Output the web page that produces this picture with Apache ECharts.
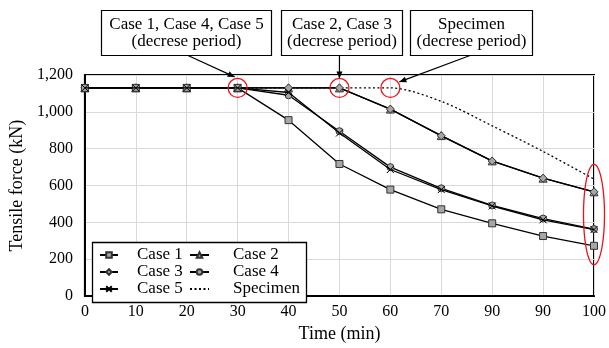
<!DOCTYPE html>
<html>
<head>
<meta charset="utf-8">
<script src="https://cdn.jsdelivr.net/npm/echarts@6/dist/echarts.min.js"></script>
<style>
  html, body { margin: 0; padding: 0; background: #fff; }
  #chart { width: 609px; height: 348px; }
</style>
</head>
<body>
<div id="chart"></div>
<script>
// Time axis labels (min)
const timeLabels = ['0', '10', '20', '30', '40', '50', '60', '70', '90', '90', '100'];

// Tensile force (kN) per case
const case1 = [1130, 1130, 1130, 1130, 955, 717, 578, 471, 395, 326, 273];
const case2 = [1130, 1130, 1130, 1130, 1130, 1130, 1015, 871, 734, 640, 566];
const case3 = [1130, 1130, 1130, 1130, 1130, 1130, 1015, 870, 733, 640, 566];
const case4 = [1130, 1130, 1130, 1130, 1090, 895, 700, 585, 492, 421, 364];
const case5 = [1130, 1130, 1130, 1130, 1105, 885, 687, 578, 489, 414, 361];
const specimen = [1130, 1130, 1130, 1130, 1130, 1130, 1130, 1057, 924, 785, 635];

// Y axis range
const yMin = 0, yMax = 1200, yStep = 200;

// Start of each decrease period (category index, force) and the end-of-test range
const decreaseStarts = [[3, 1130], [5, 1130], [6, 1130]];
const endRange = { index: 10, low: 170, high: 715 };

const FONT = '"Liberation Serif", "Times New Roman", serif';
const chart = echarts.init(document.getElementById('chart'), null, { renderer: 'canvas' });

const greyMarker = { color: '#a6a6a6', borderColor: '#333', borderWidth: 1 };
const blackLine = { color: '#000', width: 1.3 };

function caseSeries(name, data, symbol, size, z) {
  return {
    name, type: 'line', data, symbol, symbolSize: size, showAllSymbol: true,
    itemStyle: greyMarker, lineStyle: blackLine, z, animation: false
  };
}

function legendText(pad) {
  return { fontFamily: FONT, fontSize: 17, color: '#000', lineHeight: 17, padding: [0, 0, 0, pad] };
}

chart.setOption({
  animation: false,
  grid: { left: 83, right: 9, top: 75, bottom: 41, show: true, borderColor: '#000', borderWidth: 2, backgroundColor: 'transparent' },
  xAxis: {
    type: 'category', data: timeLabels, boundaryGap: false,
    name: 'Time (min)', nameLocation: 'middle', nameGap: 21,
    nameTextStyle: { fontFamily: FONT, fontSize: 18, fontWeight: 'normal', color: '#000' },
    axisLine: { lineStyle: { color: '#000', width: 2 } },
    axisTick: { show: false },
    axisLabel: { fontFamily: FONT, fontSize: 16, color: '#000', margin: 8, interval: 0 },
    splitLine: { show: true, lineStyle: { color: '#d9d9d9', width: 1 } }
  },
  yAxis: {
    type: 'value', min: yMin, max: yMax, interval: yStep,
    name: 'Tensile force (kN)', nameLocation: 'middle', nameGap: 58,
    nameTextStyle: { fontFamily: FONT, fontSize: 18, fontWeight: 'normal', color: '#000' },
    axisLine: { show: true, lineStyle: { color: '#000', width: 2 } },
    axisTick: { show: false },
    axisLabel: { fontFamily: FONT, fontSize: 16, color: '#000', margin: 12,
      formatter: v => v.toLocaleString('en-US') },
    splitLine: { show: true, lineStyle: { color: '#d9d9d9', width: 1 } }
  },
  legend: [
    { data: ['Case 1', 'Case 3', 'Case 5'], orient: 'vertical', left: 99, top: 246.5,
      padding: 0, itemGap: 0, itemWidth: 18, itemHeight: 7, textStyle: legendText(14), z: 6 },
    { data: ['Case 2', 'Case 4', 'Specimen'], orient: 'vertical', left: 189, top: 246.5,
      padding: 0, itemGap: 0, itemWidth: 19, itemHeight: 7, textStyle: legendText(19), z: 6 }
  ],
  series: [
    { name: 'Specimen', type: 'line', data: specimen, symbol: 'none', smooth: 0.3,
      lineStyle: { color: '#000', width: 1.3, type: [2, 2.5] },
      itemStyle: { color: 'rgba(0,0,0,0)', borderWidth: 0 }, z: 2 },
    caseSeries('Case 2', case2, 'triangle', 8, 3),
    caseSeries('Case 3', case3, 'diamond', 8, 4),
    caseSeries('Case 4', case4, 'circle', 7, 5),
    caseSeries('Case 1', case1, 'rect', 7, 6),
    { name: 'Case 5', type: 'line', data: case5, symbol: 'path://M0,0L10,10M0,10L10,0', symbolSize: 7,
      showAllSymbol: true, itemStyle: { color: '#000', borderColor: '#000', borderWidth: 1 },
      lineStyle: blackLine, z: 7 }
  ]
});

// Callout boxes, arrows and red highlight rings
function arrowHead(x1, y1, x2, y2, len, half) {
  const a = Math.atan2(y2 - y1, x2 - x1);
  const bx = x2 - len * Math.cos(a), by = y2 - len * Math.sin(a);
  const nx = -Math.sin(a) * half, ny = Math.cos(a) * half;
  return [[x2, y2], [bx + nx, by + ny], [bx - nx, by - ny]];
}

function callout(x, y, w, h, label) {
  return [
    { type: 'rect', shape: { x, y, width: w, height: h }, style: { fill: '#fff', stroke: '#000', lineWidth: 1.2 }, z: 20 },
    { type: 'text', x: x + w / 2, y: y + h / 2, z: 21,
      style: { text: label, font: '17px ' + FONT, fill: '#000', align: 'center', verticalAlign: 'middle',
        textAlign: 'center', textVerticalAlign: 'middle', lineHeight: 17 } }
  ];
}

function arrow(x1, y1, x2, y2, head) {
  const els = [{ type: 'line', shape: { x1, y1, x2, y2 }, style: { stroke: '#000', lineWidth: 1.2 }, z: 20 }];
  if (head) els.push({ type: 'polygon', shape: { points: arrowHead(x1, y1, x2, y2, 7, 3) }, style: { fill: '#000' }, z: 20 });
  return els;
}

// Outline of an ellipse as a closed polygon
function ellipseOutline(cx, cy, rx, ry) {
  const pts = [];
  for (let i = 0; i < 96; i++) {
    const t = (i / 96) * Math.PI * 2;
    pts.push([cx + rx * Math.cos(t), cy + ry * Math.sin(t)]);
  }
  return pts;
}

const rings = decreaseStarts.map(p => {
  const [cx, cy] = chart.convertToPixel({ gridIndex: 0 }, p);
  return { type: 'circle', shape: { cx, cy, r: 9.5 }, style: { fill: 'none', stroke: '#e8141c', lineWidth: 1.3 }, z: 22 };
});
const [ex, eTop] = chart.convertToPixel({ gridIndex: 0 }, [endRange.index, endRange.high]);
const eBot = chart.convertToPixel({ gridIndex: 0 }, [endRange.index, endRange.low])[1];
const ellipse = { type: 'polygon', shape: { points: ellipseOutline(ex, (eTop + eBot) / 2, 10.5, (eBot - eTop) / 2) },
  style: { fill: 'none', stroke: '#e8141c', lineWidth: 1.3 }, z: 22 };

const c1 = chart.convertToPixel({ gridIndex: 0 }, decreaseStarts[0]);
const c2 = chart.convertToPixel({ gridIndex: 0 }, decreaseStarts[1]);
const c3 = chart.convertToPixel({ gridIndex: 0 }, decreaseStarts[2]);

chart.setOption({
  graphic: [
    { type: 'rect', shape: { x: 92.5, y: 242.5, width: 214, height: 60 }, style: { fill: '#fff', stroke: '#000', lineWidth: 1.3 }, z: 5 },
    ...callout(101.5, 10.5, 170, 45, 'Case 1, Case 4, Case 5\n(decrese period)'),
    ...callout(281.5, 10.5, 121, 45, 'Case 2, Case 3\n(decrese period)'),
    ...callout(410.5, 10.5, 122, 45, 'Specimen\n(decrese period)'),
    ...arrow(188, 55.5, c1[0] - 3, c1[1] - 11, true),
    ...arrow(c2[0], 55.5, c2[0], c2[1] - 9.5, true),
    ...arrow(470, 55.5, c3[0] + 9, c3[1] - 6, true),
    ...rings,
    ellipse
  ]
});
</script>
</body>
</html>
